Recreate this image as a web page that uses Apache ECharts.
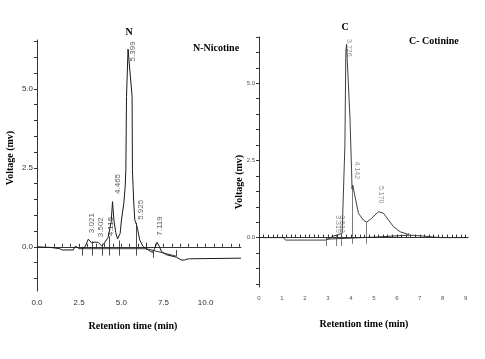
<!DOCTYPE html>
<html><head><meta charset="utf-8">
<script src="https://cdn.jsdelivr.net/npm/echarts@6/dist/echarts.min.js"></script>
<style>html,body{margin:0;padding:0;background:#fff}#c{width:485px;height:359px}</style>
</head><body><div id="c"></div>
<script>
// ---- Nicotine chromatogram (left) ----
const nicTime = [0, 0.8, 1.35, 1.5, 2.15, 2.28, 2.38, 2.5, 2.7, 2.85, 3.04, 3.23, 3.43, 3.63, 3.83, 3.96, 4.12, 4.22, 4.3, 4.4, 4.48, 4.56, 4.67, 4.78, 4.85, 4.93, 5.01, 5.15, 5.23, 5.27, 5.31, 5.40, 5.64, 5.66, 5.70, 5.74, 5.80, 5.90, 5.97, 6.09, 6.29, 6.6, 6.85, 6.98, 7.12, 7.25, 7.38, 7.67, 8.27, 8.46, 8.6, 8.75, 8.9, 9.05, 12.1];
const nicVolt = [0, -0.02, -0.06, -0.1, -0.1, 0.02, 0.05, -0.06, -0.06, 0.0, 0.24, 0.13, 0.15, 0.14, 0.03, 0.09, 0.22, 0.3, 0.25, 0.8, 1.43, 0.85, 0.45, 0.25, 0.22, 0.42, 0.85, 1.38, 1.91, 2.44, 4.76, 6.26, 4.76, 2.44, 1.91, 1.38, 0.85, 0.70, 0.55, 0.22, 0.01, -0.1, -0.18, -0.05, 0.14, 0.02, -0.15, -0.25, -0.33, -0.39, -0.42, -0.42, -0.39, -0.38, -0.36];
const nicBaseTime = [2.7, 6.49, 8.27];
const nicBaseVolt = [-0.06, -0.06, -0.3];
const nicDropTime = [2.7, 3.3, 3.86, 4.26, 4.85, 5.9, 6.49, 6.92, 8.27];
const nicDropTop = [0.0, 0.17, 0.1, 0.33, 0.2, 0.76, 0.14, -0.1, -0.1];
const nicDropBottom = [-0.28, -0.28, -0.28, -0.28, -0.28, -0.28, -0.1, -0.35, -0.3];
const nicLabelText = ['3.021', '3.502', '4.115', '4.465', '5.399', '5.925', '7.119'];
const nicLabelTime = [3.24, 3.77, 4.36, 4.81, 5.68, 6.14, 7.28];
const nicLabelVolt = [0.75, 0.62, 0.64, 1.99, 6.19, 1.17, 0.66];
const nicXTicks = ['0.0', '2.5', '5.0', '7.5', '10.0'];
const nicYTicks = ['0.0', '2.5', '5.0'];

// ---- Cotinine chromatogram (right) ----
const cotTime = [0, 1.05, 1.15, 2.9, 3.0, 3.23, 3.4, 3.62, 3.70, 3.74, 3.78, 3.81, 3.89, 3.96, 4.03, 4.05, 4.08, 4.18, 4.33, 4.54, 4.69, 4.91, 5.2, 5.42, 5.64, 5.85, 6.14, 6.44, 6.55, 7.0, 7.9, 9.1];
const cotVolt = [0, 0, -0.08, -0.08, -0.05, 0.05, 0.08, 0.14, 0.2, 3.0, 6.0, 6.26, 5.0, 3.9, 2.2, 1.58, 1.70, 1.33, 0.79, 0.57, 0.5, 0.63, 0.84, 0.79, 0.57, 0.36, 0.19, 0.12, 0.08, 0.06, 0.0, 0.0];
const cotBaseTime = [2.93, 5.13, 6.5];
const cotBaseVolt = [-0.05, 0.02, 0.08];
const cotDropTime = [2.93, 3.38, 3.56, 4.07, 4.66, 6.5];
const cotDropTop = [0.0, 0.1, 0.15, 1.65, 0.5, 0.15];
const cotDropBottom = [-0.27, -0.27, -0.27, -0.2, -0.2, 0.04];
const cotLabelText = ['3.319', '3.512', '3.726', '4.142', '5.170'];
const cotLabelTime = [3.44, 3.61, 3.90, 4.27, 5.30];
const cotLabelVolt = [0.44, 0.44, 6.15, 2.18, 1.39];
const cotXTicks = ['0', '1', '2', '3', '4', '5', '6', '7', '8', '9'];
const cotYTicks = ['0.0', '2.5', '5.0'];

function range(a, b, s) { const r = []; for (let v = a; v <= b + 1e-9; v += s) r.push(Math.round(v * 100) / 100); return r; }
const zip = (a, b) => a.map((x, i) => [x, b[i]]);

const chart = echarts.init(document.getElementById('c'), null, { renderer: 'canvas' });
const axisColor = '#333';
const traceStyle = { color: '#1a1a1a', width: 1 };

function xAxis(gi, max, labels, tickStep, fs, labelColor) {
  return {
    type: 'value', gridIndex: gi, min: 0, max: max,
    axisLine: { show: true, lineStyle: { color: axisColor, width: 1 } },
    axisTick: { show: true, inside: true, length: 3, lineStyle: { color: axisColor }, customValues: range(0, Math.floor(max), tickStep) },
    axisLabel: { show: true, customValues: labels.map(Number), formatter: v => labels.find(l => Number(l) === v) || '', fontSize: fs, color: labelColor, fontFamily: 'Liberation Sans, Arial', margin: 8 },
    splitLine: { show: false }
  };
}
function yAxis(gi, min, max, labels, fs, labelColor) {
  return {
    type: 'value', gridIndex: gi, min: min, max: max,
    axisLine: { show: true, onZero: false, lineStyle: { color: axisColor, width: 1 } },
    axisTick: { show: true, inside: false, length: 3, lineStyle: { color: axisColor }, customValues: range(Math.ceil(min * 2) / 2, max, 0.5) },
    axisLabel: { show: true, customValues: labels.map(Number), formatter: v => Number(v).toFixed(1), fontSize: fs, color: labelColor, fontFamily: 'Liberation Sans, Arial', margin: 4 },
    splitLine: { show: false }
  };
}
function dropLines(times, tops, bottoms) {
  return times.map((t, i) => [{ coord: [t, tops[i]] }, { coord: [t, bottoms[i]] }]);
}
function labelSeries(xi, times, volts, texts, rot, fs, color) {
  return {
    type: 'scatter', xAxisIndex: xi, yAxisIndex: xi, symbolSize: 1, itemStyle: { color: 'rgba(0,0,0,0)' }, silent: true,
    data: times.map((t, i) => ({ value: [t, volts[i]], name: texts[i] })),
    label: { show: true, position: 'inside', rotate: rot, formatter: p => p.name, fontSize: fs, color: color, fontFamily: 'Liberation Sans, Arial', align: 'center', verticalAlign: 'middle' }
  };
}

const serif = 'bold 10px "Liberation Serif", "Times New Roman", serif';
chart.setOption({
  animation: false,
  backgroundColor: '#fff',
  grid: [
    { left: 37, top: 40, width: 204, height: 251 },
    { left: 259, top: 37, width: 209, height: 250 }
  ],
  xAxis: [xAxis(0, 12.1, nicXTicks, 0.5, 8, '#333'), xAxis(1, 9.1, cotXTicks, 0.2, 6, '#555')],
  yAxis: [yAxis(0, -1.4, 6.55, nicYTicks, 8, '#333'), yAxis(1, -1.6, 6.5, cotYTicks, 6, '#555')],
  series: [
    { type: 'line', xAxisIndex: 0, yAxisIndex: 0, data: zip(nicTime, nicVolt), symbol: 'none', lineStyle: traceStyle,
      markLine: { symbol: 'none', silent: true, label: { show: false }, lineStyle: { color: '#222', width: 0.8, type: 'solid' }, data: dropLines(nicDropTime, nicDropTop, nicDropBottom) } },
    { type: 'line', xAxisIndex: 0, yAxisIndex: 0, data: zip(nicBaseTime, nicBaseVolt), symbol: 'none', lineStyle: { color: '#222', width: 0.9 } },
    labelSeries(0, nicLabelTime, nicLabelVolt, nicLabelText, 90, 8, '#333'),
    { type: 'line', xAxisIndex: 1, yAxisIndex: 1, data: zip(cotTime, cotVolt), symbol: 'none', lineStyle: { color: '#2a2a2a', width: 0.9 },
      markLine: { symbol: 'none', silent: true, label: { show: false }, lineStyle: { color: '#444', width: 0.7, type: 'solid' }, data: dropLines(cotDropTime, cotDropTop, cotDropBottom) } },
    { type: 'line', xAxisIndex: 1, yAxisIndex: 1, data: zip(cotBaseTime, cotBaseVolt), symbol: 'none', lineStyle: { color: '#222', width: 0.9 } },
    labelSeries(1, cotLabelTime, cotLabelVolt, cotLabelText, -90, 7, '#777')
  ],
  graphic: [
    { type: 'text', x: 129, y: 32, style: { text: 'N', font: serif, fill: '#000', textAlign: 'center', textVerticalAlign: 'middle' } },
    { type: 'text', x: 193, y: 48, style: { text: 'N-Nicotine', font: serif, fill: '#000', textAlign: 'left', textVerticalAlign: 'middle' } },
    { type: 'text', x: 345, y: 27, style: { text: 'C', font: serif, fill: '#000', textAlign: 'center', textVerticalAlign: 'middle' } },
    { type: 'text', x: 409, y: 41, style: { text: 'C- Cotinine', font: serif, fill: '#000', textAlign: 'left', textVerticalAlign: 'middle' } },
    { type: 'text', x: 10, y: 158, rotation: Math.PI / 2, style: { text: 'Voltage (mv)', font: serif, fill: '#000', textAlign: 'center', textVerticalAlign: 'middle' } },
    { type: 'text', x: 239, y: 182, rotation: Math.PI / 2, style: { text: 'Voltage (mv)', font: serif, fill: '#000', textAlign: 'center', textVerticalAlign: 'middle' } },
    { type: 'text', x: 133, y: 326, style: { text: 'Retention time (min)', font: serif, fill: '#000', textAlign: 'center', textVerticalAlign: 'middle' } },
    { type: 'text', x: 364, y: 324, style: { text: 'Retention time (min)', font: serif, fill: '#000', textAlign: 'center', textVerticalAlign: 'middle' } }
  ]
});
</script>
</body></html>
